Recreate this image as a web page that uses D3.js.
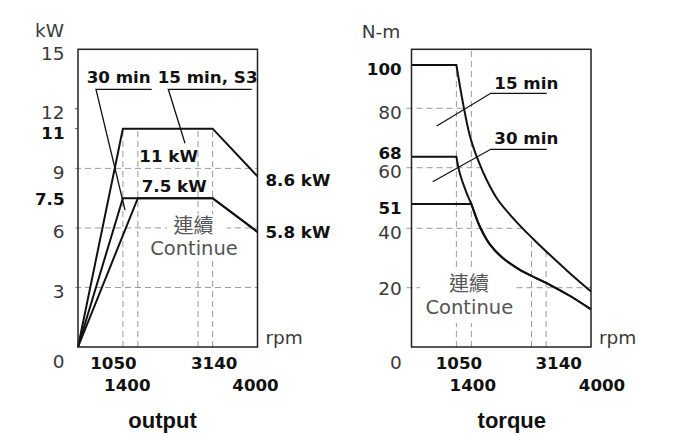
<!DOCTYPE html>
<html>
<head>
<meta charset="utf-8">
<script src="https://cdn.jsdelivr.net/npm/d3@7"></script>
<style>
  body { margin: 0; background: #fff; }
  .grid { stroke: #9a9a9a; stroke-width: 1; stroke-dasharray: 6,4; fill: none; }
  .curve { stroke: #111; stroke-width: 2; fill: none; stroke-linejoin: miter; }
  .leader { stroke: #111; stroke-width: 1.3; fill: none; }
  .frame { stroke: #222; stroke-width: 1.5; fill: none; }
  .reg { font-family: "DejaVu Sans", sans-serif; font-size: 18.5px; fill: #3a3a3a; }
  .bold { font-family: "DejaVu Sans", sans-serif; font-size: 16.7px; font-weight: bold; fill: #111; }
  .title { font-family: "Liberation Sans", Arial, sans-serif; font-size: 22px; font-weight: bold; fill: #111; }
  .cjk { font-family: "Noto Sans CJK TC", sans-serif; font-size: 20px; fill: #555; }
  .cont { font-family: "DejaVu Sans", sans-serif; font-size: 19.5px; fill: #555; }
</style>
</head>
<body>
<script>
// ---- data ----
// rpm axis: the drawing spaces its breakpoints schematically
const rpmBreaks = [0, 1050, 1400, 3140, 4000];
const rpmLabels = [1050, 1400, 3140, 4000];
const rpmGrid = [1050, 1400, 2800, 3140];

// output (kW)
const kwTicks = [0, 3, 6, 9, 12, 15];
const kwMarks = [7.5, 11];
const kwGrid = [3, 6, 9];
const output15 = [[0, 0], [1050, 11], [3140, 11], [4000, 8.6]];
const output30 = [[0, 0], [1050, 7.5], [3140, 7.5], [4000, 5.8]];
const outputCont = [[0, 0], [1400, 7.5], [3140, 7.5], [4000, 5.8]];

// torque (N-m)
const nmTicks = [0, 20, 40, 60, 80];
const nmMarks = [51, 68, 100];
const torque15 = [[0, 100], [1050, 100], [1220, 80.8], [1370, 73], [1550, 66], [1760, 56.9],
  [2020, 52], [2460, 42.7], [2840, 36.4], [3220, 30.9], [3600, 24.8], [4000, 18.7]];
const torque30 = [[0, 68], [1050, 68], [1130, 58.6], [1290, 53.7], [1400, 51], [1600, 40.7],
  [1840, 34.4], [2140, 29.9], [2530, 26], [2880, 23.4], [3220, 20.9], [3600, 17.2], [4000, 12.7]];
const torqueCont = [[0, 51], [1400, 51], [1600, 40.7], [1840, 34.4], [2140, 29.9], [2530, 26],
  [2880, 23.4], [3220, 20.9], [3600, 17.2], [4000, 12.7]];

// ---- layout ----
const width = 684, height = 435;
const rpmFrac = [0, 0.25, 1 / 3, 0.75, 1];
const L = {x0: 78, x1: 257.5, top: 49.3, bottom: 347};
const R = {x0: 411.5, x1: 591, top: 49.3, bottom: 347};
// pixel heights of the torque breakpoints above the bottom of the frame
const nmDomain = [0, 20, 40, 51, 60, 68, 80, 100];
const nmRise = [0, 59.3, 118.7, 143, 179.3, 190.3, 238.7, 282];

const svg = d3.select("body").append("svg")
  .attr("width", width)
  .attr("height", height);

const rpmScale = (b) => d3.scaleLinear()
  .domain(rpmBreaks)
  .range(rpmFrac.map(f => b.x0 + f * (b.x1 - b.x0)));

// pixel y of a projected polyline at pixel x
const yAt = (pts, px) => {
  for (let i = 1; i < pts.length; i++) {
    const [xa, ya] = pts[i - 1], [xb, yb] = pts[i];
    if (px >= xa && px <= xb) return ya + (yb - ya) * (px - xa) / (xb - xa);
  }
  return pts[pts.length - 1][1];
};
// pixel x of a projected polyline at pixel y (descending part)
const xAt = (pts, py) => {
  for (let i = 1; i < pts.length; i++) {
    const [xa, ya] = pts[i - 1], [xb, yb] = pts[i];
    if (ya !== yb && py >= Math.min(ya, yb) && py <= Math.max(ya, yb)) return xa + (xb - xa) * (py - ya) / (yb - ya);
  }
  return pts[pts.length - 1][0];
};

// straight flat start, then a smooth fall from the corner
const cornerPath = (pts, x, y, cornerIndex) => {
  const proj = pts.map(d => [x(d[0]), y(d[1])]);
  const smooth = d3.line().curve(d3.curveCatmullRom.alpha(0.5))(proj.slice(cornerIndex));
  return `M${proj[0][0]},${proj[0][1]}` + smooth.replace(/^M/, "L");
};

const addText = (cls, txt, x, y, anchor) => svg.append("text")
  .attr("class", cls)
  .attr("x", x)
  .attr("y", y)
  .attr("text-anchor", anchor || "start")
  .text(txt);

const xLabels = (b, x, dx) => {
  const g = svg.append("g")
    .attr("transform", `translate(0, ${b.bottom})`)
    .call(d3.axisBottom(x).tickValues(rpmLabels).tickSize(0).tickFormat(d => d));
  g.select(".domain").remove();
  g.selectAll("text")
    .attr("class", "bold")
    .attr("x", (d, i) => dx[i])
    .attr("dy", null)
    .attr("y", (d, i) => i % 2 === 0 ? 21.5 : 44);
};

// =============== output chart ===============
const kwX = rpmScale(L);
const kwY = d3.scaleLinear().domain([0, 15]).range([L.bottom, L.top]);
const kwTop = d3.max(output15, d => d[1]);

kwGrid.forEach(v => {
  svg.append("line").attr("class", "grid")
    .attr("x1", L.x0 - 3).attr("x2", L.x1)
    .attr("y1", kwY(v)).attr("y2", kwY(v));
});
rpmGrid.forEach(r => {
  svg.append("line").attr("class", "grid")
    .attr("x1", kwX(r)).attr("x2", kwX(r))
    .attr("y1", kwY(0)).attr("y2", kwY(kwTop));
});
[12, 11].forEach(v => {
  svg.append("line").attr("stroke", "#555").attr("stroke-width", 1)
    .attr("x1", L.x0 - 3).attr("x2", L.x0)
    .attr("y1", kwY(v)).attr("y2", kwY(v));
});

// white patch behind the "continue" label
svg.append("rect").attr("x", 167).attr("y", 214).attr("width", 60).attr("height", 44).attr("fill", "#fff");

const kwLine = d3.line().x(d => kwX(d[0])).y(d => kwY(d[1]));
[output15, output30, outputCont].forEach(s => {
  svg.append("path").attr("class", "curve").attr("d", kwLine(s));
});

svg.append("rect").attr("class", "frame")
  .attr("x", L.x0).attr("y", L.top)
  .attr("width", L.x1 - L.x0).attr("height", L.bottom - L.top);

// y labels
const kwAxis = svg.append("g")
  .attr("transform", `translate(${L.x0}, 0)`)
  .call(d3.axisLeft(kwY).tickValues(kwTicks.concat(kwMarks)).tickSize(0).tickPadding(13.5).tickFormat(d => d));
kwAxis.select(".domain").remove();
kwAxis.selectAll("text")
  .attr("class", d => kwMarks.includes(d) ? "bold" : "reg")
  .attr("dy", d => d === 0 ? 20.5 : d === 7.5 ? 6 : kwMarks.includes(d) ? 10 : 9.7);

xLabels(L, kwX, [-10, -11, 1, -2.5]);
addText("reg", "kW", 35, 37);
addText("reg", "rpm", L.x1 + 8, 343.5);
addText("title", "output", 162.5, 428, "middle");

// annotations
addText("bold", "30 min", 86.7, 83);
addText("bold", "15 min, S3", 157.7, 83);
svg.append("path").attr("class", "leader").attr("d", "M151.7,89.3H96L125,210");
svg.append("path").attr("class", "leader").attr("d", "M251.7,89.3H168.3L185,143.3");
addText("bold", "11 kW", 139.3, 161.7);
addText("bold", "7.5 kW", 141.7, 192);
addText("bold", "8.6 kW", kwX(4000) + 8, kwY(8.6) + 10);
addText("bold", "5.8 kW", kwX(4000) + 8, kwY(5.8) + 6);
addText("cjk", "連續", 193.5, 232.5, "middle");
addText("cont", "Continue", 194, 255, "middle");

// =============== torque chart ===============
const nmX = rpmScale(R);
const nmY = d3.scaleLinear().domain(nmDomain).range(nmRise.map(h => R.bottom - h));

const up = torque15.map(d => [nmX(d[0]), nmY(d[1])]);

nmTicks.filter(v => v > 0).forEach(v => {
  const py = nmY(v);
  svg.append("line").attr("class", "grid")
    .attr("x1", R.x0 - 5).attr("x2", v === 20 ? R.x1 : xAt(up.slice(1), py))
    .attr("y1", py).attr("y2", py);
});
rpmGrid.forEach(r => {
  const px = nmX(r);
  let top = R.top;
  if (r === 1050) top = nmY(100);
  if (r > 1400) top = yAt(up, px);
  svg.append("line").attr("class", "grid")
    .attr("x1", px).attr("x2", px)
    .attr("y1", R.bottom).attr("y2", top);
});

svg.append("rect").attr("x", 420).attr("y", 270).attr("width", 96).attr("height", 53).attr("fill", "#fff");

svg.append("path").attr("class", "curve").attr("d", cornerPath(torque15, nmX, nmY, 1));
svg.append("path").attr("class", "curve").attr("d", cornerPath(torque30, nmX, nmY, 1));
svg.append("path").attr("class", "curve").attr("d", cornerPath(torqueCont, nmX, nmY, 1));

svg.append("rect").attr("class", "frame")
  .attr("x", R.x0).attr("y", R.top)
  .attr("width", R.x1 - R.x0).attr("height", R.bottom - R.top);

const nmAxis = svg.append("g")
  .attr("transform", `translate(${R.x0}, 0)`)
  .call(d3.axisLeft(nmY).tickValues(nmTicks.concat(nmMarks)).tickSize(0).tickPadding(9.8).tickFormat(d => d));
nmAxis.select(".domain").remove();
nmAxis.selectAll("text")
  .attr("class", d => nmMarks.includes(d) ? "bold" : "reg")
  .attr("dy", d => d === 0 ? 21.5 : d === 68 ? 1.5 : d === 20 ? 6.8 : nmMarks.includes(d) ? 9 : 10.2);

xLabels(R, nmX, [2, 1, 12, 10.5]);
addText("reg", "N-m", 361.7, 38);
addText("reg", "rpm", R.x1 + 8, 343.5);
addText("title", "torque", 511.8, 428, "middle");

addText("bold", "15 min", 494.3, 89.3);
addText("bold", "30 min", 494.3, 144);
svg.append("path").attr("class", "leader").attr("d", "M546.7,93.3H490.7L436.7,126");
svg.append("path").attr("class", "leader").attr("d", "M546.7,149.3H490.7L432.7,181.7");
addText("cjk", "連續", 469, 291, "middle");
addText("cont", "Continue", 469.3, 314, "middle");
</script>
</body>
</html>
